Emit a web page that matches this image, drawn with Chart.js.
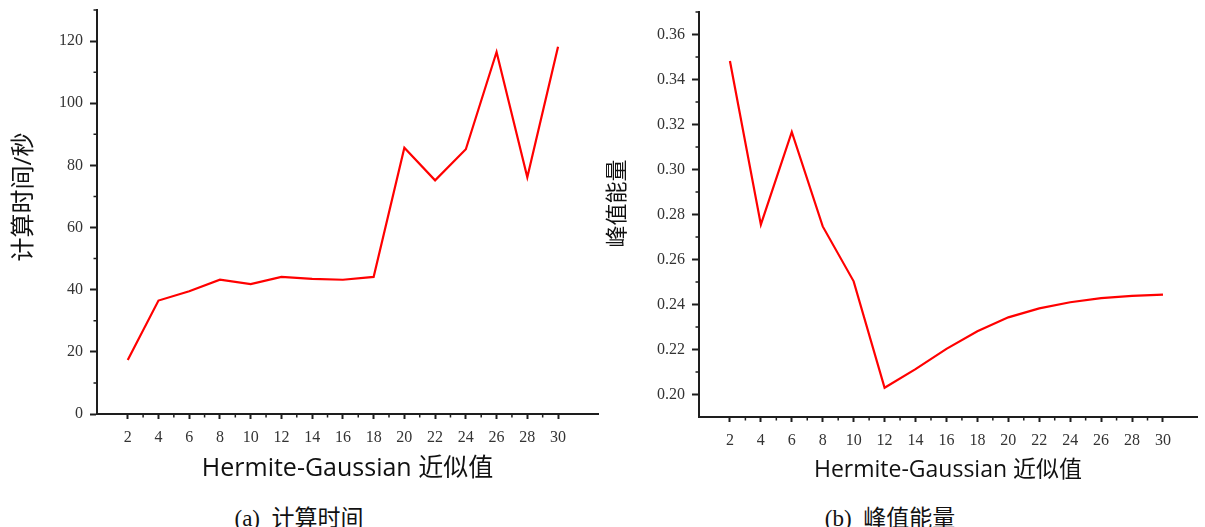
<!DOCTYPE html>
<html>
<head>
<meta charset="utf-8">
<script src="https://cdn.jsdelivr.net/npm/chart.js@4.4.1/dist/chart.umd.min.js"></script>
<style>
  html, body { margin: 0; padding: 0; background: #fff; }
  body { width: 1205px; height: 527px; position: relative; overflow: hidden; }
  canvas { position: absolute; top: 0; }
  #timeChart { left: 0; }
  #energyChart { left: 600px; }
  .caption {
    position: absolute; top: 506px; height: 26px; line-height: 26px;
    font-family: "Liberation Serif", "Noto Sans CJK SC", serif;
    font-size: 23px; color: #111; white-space: pre;
    transform: translateX(-50%);
  }
</style>
</head>
<body>
<canvas id="timeChart" width="600" height="492"></canvas>
<canvas id="energyChart" width="605" height="492"></canvas>
<div class="caption" style="left:299px">(a)  计算时间</div>
<div class="caption" style="left:890px">(b)  峰值能量</div>
<script>
// Hermite-Gaussian approximation orders
const approxOrders = [2, 4, 6, 8, 10, 12, 14, 16, 18, 20, 22, 24, 26, 28, 30];
// computation time (seconds) per order
const computeTime = [17.4, 36.5, 39.5, 43.2, 41.8, 44.1, 43.5, 43.2, 44.1, 85.7, 75.2, 85.2, 116.5, 76.2, 118.2];
// peak energy per order
const peakEnergy = [0.3482, 0.2755, 0.3167, 0.2747, 0.2503, 0.2030, 0.2113, 0.2203, 0.2281, 0.2343, 0.2383, 0.2410, 0.2428, 0.2438, 0.2444];

const xTitleText = 'Hermite-Gaussian 近似值';
const timeAxisTitle = '计算时间/秒';
const energyAxisTitle = '峰值能量';

const AXIS = '#1e1e1e';
const TICK_TEXT = '#333';
const TITLE_TEXT = '#111';
const SANS = '"Open Sans", "Noto Sans CJK SC", sans-serif';
const SERIF = '"Liberation Serif", "Noto Sans CJK SC", serif';

// short ticks between the labelled ones
const minorTicks = {
  id: 'minorTicks',
  afterDraw(chart, args, opts) {
    const { ctx } = chart;
    const xs = chart.scales.x, ys = chart.scales.y;
    ctx.save();
    ctx.strokeStyle = AXIS;
    ctx.lineWidth = 1.5;
    ctx.beginPath();
    xs.ticks.forEach(t => {
      if (opts.isMinorX(t.value)) {
        const px = xs.getPixelForValue(t.value);
        ctx.moveTo(px, xs.top);
        ctx.lineTo(px, xs.top + opts.len);
      }
    });
    ys.ticks.forEach(t => {
      if (opts.isMinorY(t.value)) {
        const py = ys.getPixelForValue(t.value);
        ctx.moveTo(ys.right, py);
        ctx.lineTo(ys.right - opts.len, py);
      }
    });
    ctx.stroke();
    ctx.restore();
  }
};

// rotated y-axis title
const yTitle = {
  id: 'yTitle',
  afterDraw(chart, args, opts) {
    const { ctx, chartArea } = chart;
    ctx.save();
    ctx.font = opts.size + 'px ' + SANS;
    ctx.fillStyle = TITLE_TEXT;
    ctx.textAlign = 'center';
    ctx.textBaseline = 'middle';
    ctx.translate(opts.x, (chartArea.top + chartArea.bottom) / 2 + opts.shift);
    ctx.rotate(-Math.PI / 2);
    ctx.fillText(opts.text, 0, 0);
    ctx.restore();
  }
};

const isMajorX = v => v >= 2 && v <= 30 && Math.abs(v % 2) < 1e-9;
const isMinorX = v => v > 2 && v < 30 && Math.abs(v % 2 - 1) < 1e-9;

// the plot box is fixed by the layout padding alone, not by label overhang
function noOverhang(s) {
  s.paddingTop = 0; s.paddingBottom = 0;
  s.paddingLeft = 0; s.paddingRight = 0;
}

function makeChart(id, cfg) {
  return new Chart(document.getElementById(id), {
    type: 'line',
    data: {
      datasets: [{
        data: approxOrders.map((x, i) => ({ x, y: cfg.values[i] })),
        borderColor: '#ff0000',
        borderWidth: 2.2,
        pointRadius: 0,
        tension: 0,
        fill: false
      }]
    },
    options: {
      responsive: false,
      animation: false,
      events: [],
      layout: { padding: cfg.padding },
      plugins: {
        legend: { display: false },
        tooltip: { enabled: false },
        minorTicks: { len: 3.5, isMinorX, isMinorY: cfg.isMinorY },
        yTitle: cfg.yTitle
      },
      scales: {
        x: {
          type: 'linear',
          min: 0,
          max: cfg.xMax,
          afterFit: s => { s.height = cfg.xHeight; noOverhang(s); },
          border: { display: true, color: AXIS, width: 2 },
          grid: {
            drawOnChartArea: false,
            drawTicks: true,
            tickLength: 5,
            tickWidth: 2,
            tickColor: c => (c.tick && isMajorX(c.tick.value)) ? AXIS : 'rgba(0,0,0,0)'
          },
          ticks: {
            stepSize: 1,
            autoSkip: false,
            maxRotation: 0,
            padding: 9,
            color: TICK_TEXT,
            font: { family: SERIF, size: 16 },
            callback: v => isMajorX(v) ? String(Math.round(v)) : ''
          },
          title: {
            display: true,
            text: xTitleText,
            color: TITLE_TEXT,
            font: { family: SANS, size: cfg.xTitleSize },
            padding: { top: 0, bottom: cfg.xTitlePad }
          }
        },
        y: {
          type: 'linear',
          min: cfg.yMin,
          max: cfg.yMax,
          afterFit: s => { s.width = cfg.yWidth; noOverhang(s); },
          border: { display: true, color: AXIS, width: 2 },
          grid: {
            drawOnChartArea: false,
            drawTicks: true,
            tickLength: 7,
            tickWidth: 2,
            tickColor: c => (c.tick && cfg.isMajorY(c.tick.value)) ? AXIS : 'rgba(0,0,0,0)'
          },
          ticks: {
            stepSize: cfg.yStep,
            autoSkip: false,
            padding: 7,
            color: TICK_TEXT,
            font: { family: SERIF, size: 16 },
            callback: v => cfg.isMajorY(v) ? cfg.fmt(v) : ''
          }
        }
      }
    },
    plugins: [minorTicks, yTitle]
  });
}

// (a) computation time
makeChart('timeChart', {
  values: computeTime,
  padding: { left: 0, right: 2, top: 10, bottom: 0 },
  xMax: 32.6,
  xHeight: 78,
  xTitleSize: 25,
  xTitlePad: 8,
  yMin: 0, yMax: 130, yStep: 10,
  yWidth: 97,
  isMajorY: v => Math.round(v) % 20 === 0,
  isMinorY: v => Math.round(v) % 20 === 10,
  fmt: v => String(Math.round(v)),
  yTitle: { text: timeAxisTitle, size: 24, x: 24, shift: -15 }
});

// (b) peak energy
makeChart('energyChart', {
  values: peakEnergy,
  padding: { left: 0, right: 8, top: 12, bottom: 0 },
  xMax: 32.2,
  xHeight: 75,
  xTitleSize: 23,
  xTitlePad: 8,
  yMin: 0.19, yMax: 0.37, yStep: 0.01,
  yWidth: 99,
  isMajorY: v => Math.round(v * 100) % 2 === 0,
  isMinorY: v => Math.round(v * 100) % 2 === 1 && Math.round(v * 100) > 19,
  fmt: v => v.toFixed(2),
  yTitle: { text: energyAxisTitle, size: 22, x: 18, shift: -11 }
});
</script>
</body>
</html>
